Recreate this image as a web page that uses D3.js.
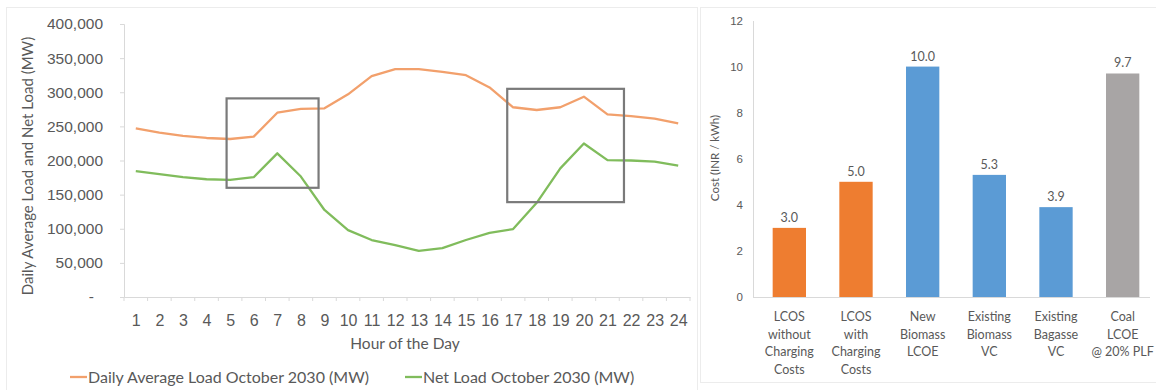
<!DOCTYPE html>
<html>
<head>
<meta charset="utf-8">
<script src="https://cdn.jsdelivr.net/npm/d3@7"></script>
<style>
  html, body { margin: 0; padding: 0; background: #fff; }
  svg { display: block; font-family: Lato, "Open Sans", sans-serif; }
</style>
</head>
<body>
<svg id="chart" width="1156" height="390"></svg>
<script>
// ---- Hourly load profile (left panel) ----
const hours = d3.range(1, 25);
const dailyAverageLoad = [247000, 241000, 236000, 233000, 231500, 235000, 270000, 275500, 276500, 297000, 323500, 334000,
                          334000, 330000, 325000, 307000, 278000, 274000, 278000, 293500, 267500, 265000, 261500, 254500];
const netLoad = [184500, 180000, 175500, 172500, 171500, 175500, 210500, 176500, 127500, 98000, 83500, 76000,
                 67500, 71500, 83500, 94000, 99500, 138000, 188500, 225000, 200500, 200000, 198500, 192500];
const loadTicks = [0, 50000, 100000, 150000, 200000, 250000, 300000, 350000, 400000];
const seriesNames = ["Daily Average Load October 2030 (MW)", "Net Load October 2030 (MW)"];
// highlighted ramp windows: hour span and load span
const rampHours = [[4.85, 8.75], [16.75, 21.7]];
const rampLoads = [[160000, 291000], [139000, 305000]];

// ---- Cost comparison (right panel) ----
const costCategories = [
  ["LCOS", "without", "Charging", "Costs"],
  ["LCOS", "with", "Charging", "Costs"],
  ["New", "Biomass", "LCOE"],
  ["Existing", "Biomass", "VC"],
  ["Existing", "Bagasse", "VC"],
  ["Coal", "LCOE", "@ 20% PLF"]
];
const costValues = [3.0, 5.0, 10.0, 5.3, 3.9, 9.7];
const costGroups = ["storage", "storage", "biomass", "biomass", "biomass", "coal"];
const costTicks = [0, 2, 4, 6, 8, 10, 12];

const svg = d3.select("#chart");
const textColor = "#595959";
const axisColor = "#d9d9d9";

// panel frames
svg.append("rect").attr("x", 6.5).attr("y", 7.5).attr("width", 691).attr("height", 400)
  .attr("fill", "none").attr("stroke", "#ececec");
svg.append("rect").attr("x", 700.5).attr("y", 7.5).attr("width", 470).attr("height", 375)
  .attr("fill", "none").attr("stroke", "#ececec");

// ================= Left panel =================
const L = { left: 124, right: 690, top: 24, bottom: 297 };
const xHour = d3.scaleLinear().domain([0.5, 24.5]).range([L.left, L.right]);
const yLoad = d3.scaleLinear().domain([0, 400000]).range([L.bottom, L.top]);

const left = svg.append("g");

// y axis
const yAxisL = left.append("g").attr("transform", `translate(${L.left},0)`)
  .call(d3.axisLeft(yLoad).tickValues(loadTicks).tickSize(4).tickPadding(17)
    .tickFormat(d => d === 0 ? "-" : d3.format(",")(d)));
yAxisL.select(".domain").attr("stroke", axisColor);
yAxisL.selectAll(".tick line").attr("stroke", axisColor);
yAxisL.selectAll(".tick text").attr("fill", textColor).attr("font-size", 15.5)
  .attr("dx", d => d === 0 ? -9 : 0);

// x axis: labels at hours, tick marks at hour boundaries
const xAxisL = left.append("g").attr("transform", `translate(0,${L.bottom})`)
  .call(d3.axisBottom(xHour).tickValues(hours).tickSize(0).tickPadding(18).tickSizeOuter(0));
xAxisL.select(".domain").attr("stroke", axisColor);
xAxisL.selectAll(".tick text").attr("fill", textColor).attr("font-size", 16);
left.append("g").selectAll("line").data(d3.range(0.5, 25, 1)).join("line")
  .attr("x1", d => xHour(d)).attr("x2", d => xHour(d))
  .attr("y1", L.bottom).attr("y2", L.bottom + 4)
  .attr("stroke", axisColor);

// axis titles
left.append("text").attr("x", 405).attr("y", 349).attr("text-anchor", "middle")
  .attr("fill", textColor).attr("font-size", 15.5).text("Hour of the Day");
left.append("text").attr("transform", "translate(33,166) rotate(-90)").attr("text-anchor", "middle")
  .attr("fill", textColor).attr("font-size", 15).text("Daily Average Load and Net Load (MW)");

// series lines
const lineColors = ["#F2A06C", "#80BC5C"];
const line = d3.line().x((d, i) => xHour(hours[i])).y(d => yLoad(d));
[dailyAverageLoad, netLoad].forEach((s, k) => {
  left.append("path").datum(s).attr("d", line)
    .attr("fill", "none").attr("stroke", lineColors[k]).attr("stroke-width", 2.3)
    .attr("stroke-linejoin", "round");
});

// ramp highlight boxes
rampHours.forEach((h, i) => {
  left.append("rect")
    .attr("x", xHour(h[0])).attr("y", yLoad(rampLoads[i][1]))
    .attr("width", xHour(h[1]) - xHour(h[0]))
    .attr("height", yLoad(rampLoads[i][0]) - yLoad(rampLoads[i][1]))
    .attr("fill", "none").attr("stroke", "#7a7a7a").attr("stroke-width", 2.2);
});

// legend
const legendX = [70, 405];
seriesNames.forEach((name, k) => {
  const g = left.append("g").attr("transform", `translate(${legendX[k]},377)`);
  g.append("line").attr("x1", 0).attr("x2", 17).attr("stroke", lineColors[k]).attr("stroke-width", 2.3);
  g.append("text").attr("x", 18).attr("y", 5.5).attr("fill", textColor).attr("font-size", 16).text(name);
});

// ================= Right panel =================
const R = { left: 753, right: 1150, top: 20.5, bottom: 297 };
const xCost = d3.scaleBand().domain(d3.range(costValues.length)).range([756, 1156])
  .paddingInner(0.5).paddingOuter(0.25);
const yCost = d3.scaleLinear().domain([0, 12]).range([R.bottom, R.top]);
const groupColor = d3.scaleOrdinal().domain(["storage", "biomass", "coal"])
  .range(["#EE7D30", "#5B9BD5", "#A8A5A5"]);

const right = svg.append("g");

const yAxisR = right.append("g").attr("transform", `translate(${R.left},0)`)
  .call(d3.axisLeft(yCost).tickValues(costTicks).tickSize(0).tickPadding(10));
yAxisR.select(".domain").attr("stroke", axisColor);
yAxisR.selectAll(".tick text").attr("fill", textColor).attr("font-size", 11.5);

right.append("line").attr("x1", R.left).attr("x2", R.right)
  .attr("y1", R.bottom + 0.5).attr("y2", R.bottom + 0.5).attr("stroke", axisColor);

right.append("text").attr("transform", "translate(719,158) rotate(-90)").attr("text-anchor", "middle")
  .attr("fill", textColor).attr("font-size", 11.5).text("Cost (INR / kWh)");

right.selectAll("rect.bar").data(costValues).join("rect").attr("class", "bar")
  .attr("x", (d, i) => xCost(i)).attr("width", xCost.bandwidth())
  .attr("y", d => yCost(d)).attr("height", d => yCost(0) - yCost(d))
  .attr("fill", (d, i) => groupColor(costGroups[i]));

right.selectAll("text.value").data(costValues).join("text").attr("class", "value")
  .attr("x", (d, i) => xCost(i) + xCost.bandwidth() / 2).attr("y", d => yCost(d) - 6)
  .attr("text-anchor", "middle").attr("fill", textColor).attr("font-size", 12.5)
  .text(d => d3.format(".1f")(d));

const catLabels = right.selectAll("text.cat").data(costCategories).join("text").attr("class", "cat")
  .attr("x", (d, i) => xCost(i) + xCost.bandwidth() / 2).attr("y", 321)
  .attr("text-anchor", "middle").attr("fill", textColor).attr("font-size", 12.5);
catLabels.each(function(lines) {
  const t = d3.select(this);
  lines.forEach((s, j) => t.append("tspan").attr("x", t.attr("x")).attr("dy", j === 0 ? 0 : 17.5).text(s));
});
</script>
</body>
</html>
